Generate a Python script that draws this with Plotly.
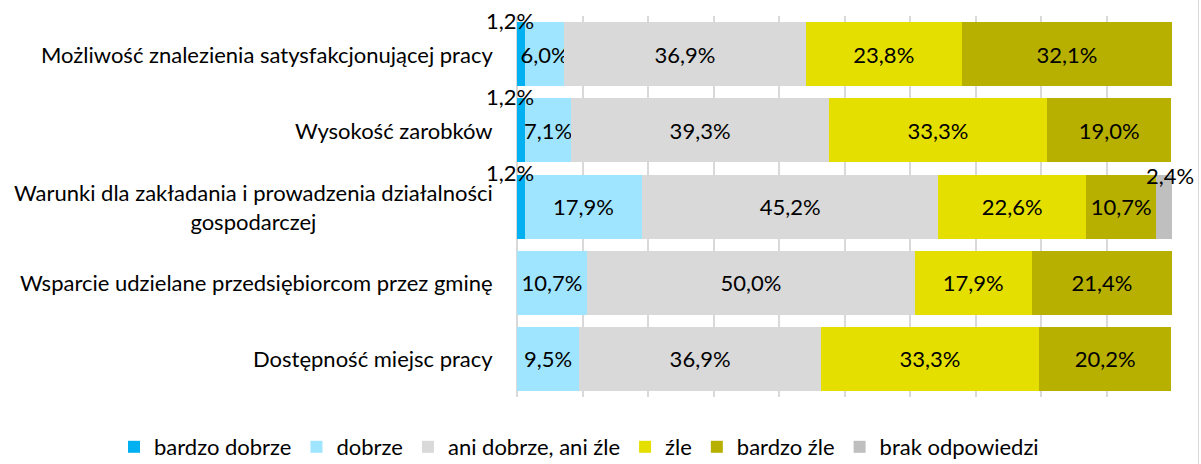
import plotly.graph_objects as go

categories = [
    "Możliwość znalezienia satysfakcjonującej pracy",
    "Wysokość zarobków",
    "Warunki dla zakładania i prowadzenia działalności<br>gospodarczej",
    "Wsparcie udzielane przedsiębiorcom przez gminę",
    "Dostępność miejsc pracy",
]

series_names = ["bardzo dobrze", "dobrze", "ani dobrze, ani źle", "źle", "bardzo źle", "brak odpowiedzi"]
bardzo_dobrze = [1.2, 1.2, 1.2, None, None]
dobrze = [6.0, 7.1, 17.9, 10.7, 9.5]
ani_ani = [36.9, 39.3, 45.2, 50.0, 36.9]
zle = [23.8, 33.3, 22.6, 17.9, 33.3]
bardzo_zle = [32.1, 19.0, 10.7, 21.4, 20.2]
brak = [None, None, 2.4, None, None]

colors = ["#00B0F0", "#A0E5FF", "#D9D9D9", "#E5DF00", "#B8B000", "#BFBFBF"]
series = [bardzo_dobrze, dobrze, ani_ani, zle, bardzo_zle, brak]
# segments too thin to hold their label get it drawn above the bar
outside = {"bardzo dobrze", "brak odpowiedzi"}

FONT = "Lato"
SIZE = 22
W, H = 1201, 464
L, R, T, B = 517, 29, 16, 67
PW, PH = W - L - R, H - T - B

fig = go.Figure()
for name, vals, col in zip(series_names, series, colors):
    fig.add_trace(go.Bar(
        y=categories, x=vals, name=name, orientation="h",
        marker=dict(color=col, line=dict(width=0)),
        texttemplate=None if name in outside else "%{x:.1f}%",
        textposition="none" if name in outside else "inside",
        insidetextanchor="middle", textangle=0, constraintext="none",
        textfont=dict(family=FONT, size=SIZE, color="#000000"),
        cliponaxis=False,
        hoverinfo="x+y+name",
    ))

annotations = []
for name, vals, sh in [("bardzo dobrze", bardzo_dobrze, (-11, 34)), ("brak odpowiedzi", brak, (6, 31))]:
    idx = series_names.index(name)
    for i, v in enumerate(vals):
        if v is None:
            continue
        left = sum((series[k][i] or 0) for k in range(idx))
        annotations.append(dict(
            x=left + v / 2, y=categories[i], xref="x", yref="y",
            text=f"{v:.1f}%".replace(".", ","), showarrow=False,
            xshift=sh[0], yshift=sh[1],
            font=dict(family=FONT, size=SIZE, color="#000000"),
        ))

# category labels, right-aligned to the axis with centred wrapped lines
for c in categories:
    annotations.append(dict(
        x=0, y=c, xref="paper", yref="y", text=c, showarrow=False,
        xanchor="right", align="center", xshift=-22,
        font=dict(family=FONT, size=SIZE, color="#000000"),
    ))

fig.update_layout(
    width=W, height=H,
    margin=dict(l=L, r=R, t=T, b=B, autoexpand=False),
    paper_bgcolor="white", plot_bgcolor="white",
    barmode="stack", bargap=0.16,
    separators=", ",
    showlegend=True,
    legend=dict(
        orientation="h",
        x=(114 - L) / PW, xanchor="left", xref="paper",
        y=-(447 - (T + PH)) / PH, yanchor="middle", yref="paper",
        font=dict(family=FONT, size=SIZE, color="#000000"),
        traceorder="normal", itemwidth=30,
    ),
    xaxis=dict(
        range=[0, 100], dtick=10, showticklabels=False,
        showgrid=True, gridcolor="#D9D9D9", gridwidth=1.5,
        zeroline=True, zerolinecolor="#D9D9D9", zerolinewidth=1.5,
        showline=False, fixedrange=True,
    ),
    yaxis=dict(
        autorange="reversed", showticklabels=False, showgrid=False,
        showline=False, fixedrange=True,
    ),
    annotations=annotations,
    shapes=[dict(type="line", xref="paper", yref="paper",
                 x0=(1198.5 - L) / PW, x1=(1198.5 - L) / PW, y0=-B / PH, y1=1 + T / PH,
                 line=dict(color="#D9D9D9", width=1))],
)

fig.write_html("out.html")
